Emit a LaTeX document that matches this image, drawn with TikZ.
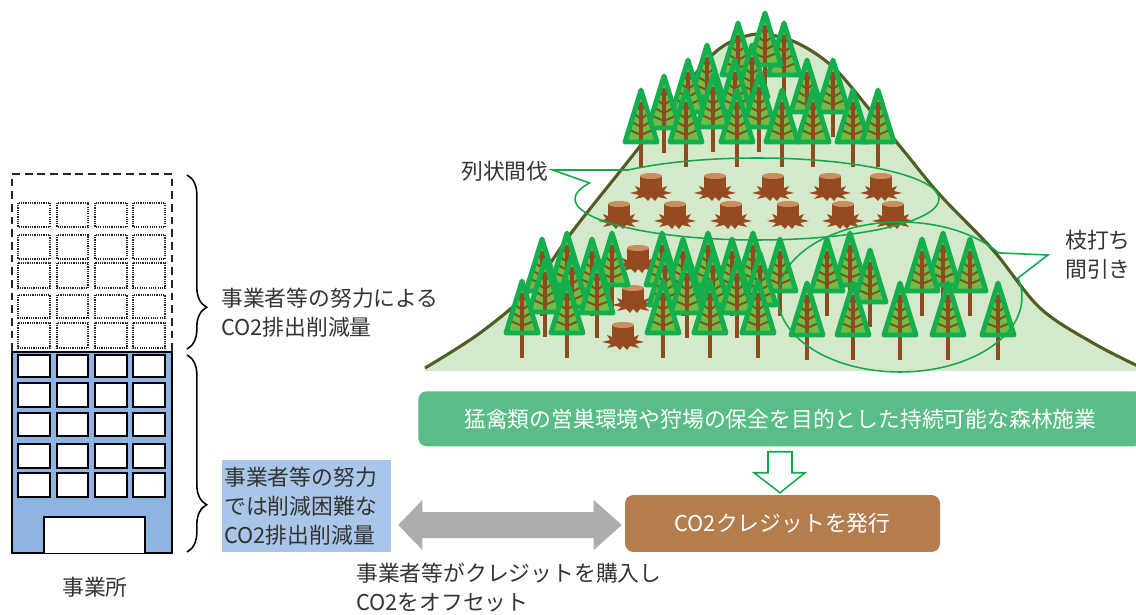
\documentclass[tikz,border=0pt]{standalone}
\usepackage{fontspec}
\setmainfont{Noto Sans CJK JP}
\usetikzlibrary{calc,decorations.pathreplacing}

\definecolor{txt}{HTML}{333333}
\definecolor{bldblue}{HTML}{8DB4E2}
\definecolor{hlblue}{HTML}{A9C6E9}
\definecolor{hill}{HTML}{D3E9CA}
\definecolor{hilledge}{HTML}{4F5E25}
\definecolor{needle}{HTML}{6CBE45}
\definecolor{needleedge}{HTML}{14AE4C}
\definecolor{bark}{HTML}{8E4A20}
\definecolor{stumpbody}{HTML}{954A20}
\definecolor{stumptop}{HTML}{C98F5F}
\definecolor{bandgreen}{HTML}{58BD86}
\definecolor{creditbrown}{HTML}{B47D4E}
\definecolor{arrowgray}{HTML}{ADADAD}
\definecolor{calloutgreen}{HTML}{14A84B}

\tikzset{
  % one conifer, placed by the tip of its crown
  conifer/.pic={
    \fill[needle] (0,3) -- (-16,55) -- (16,55) -- cycle;
    \draw[bark, line width=2.8pt] (0,15) -- (0,80);
    \foreach \yy/\ww in {24/5,32/8,40/11,48/14}
      \draw[bark, line width=1.4pt] (-\ww,\yy-6) -- (0,\yy) -- (\ww,\yy-6);
    \draw[needleedge, line width=3.5pt, line join=round] (0,3) -- (-16,55) -- (16,55) -- cycle;
  },
  % a cut stump, placed by the centre of its top face
  treestump/.pic={
    \fill[stumpbody] (-11,12) -- (-16,10) -- (-13,15) -- (-21,17) -- (-12,19) -- (-16,23)
      -- (-7,21) -- (-3,25) -- (0,21) -- (4,25) -- (7,21) -- (16,23) -- (12,19)
      -- (21,17) -- (13,15) -- (16,10) -- (11,12) -- cycle;
    \fill[stumpbody] (-11,0) rectangle (11,17);
    \fill[stumpbody] (0,17) ellipse [x radius=11, y radius=3];
    \fill[stumptop] (0,0) ellipse [x radius=11, y radius=3];
  }
}

\begin{document}
\begin{tikzpicture}[x=0.025cm, y=-0.025cm,
  lbl/.style={text=txt, font=\fontsize{15.5pt}{20.6pt}\selectfont, inner sep=0pt, align=left},
  win/.style={draw=black, line width=1.4pt, fill=white},
  ghostwin/.style={draw=black!85, line width=1pt, dash pattern=on 0.8pt off 0.8pt},
  ghostwall/.style={draw=black!85, line width=1.2pt, dash pattern=on 5.5pt off 3.5pt},
  bracket/.style={draw=black, line width=1.1pt, decorate,
    decoration={brace, amplitude=14pt, aspect=0.76}},
  callout/.style={draw=calloutgreen, line width=1.1pt},
]
\clip (0,0) rectangle (1136,615);

% ---------- office building ----------
\draw[ghostwall] (12,351) -- (12,174) -- (172,174) -- (172,351);
\foreach \ya/\yb in {203/227,235/259,263/288,295/318,323/348}
  \foreach \xa/\xb in {18/50,57/88,95/127,133/165}
    \draw[ghostwin] (\xa,\ya) rectangle (\xb,\yb);
\draw[fill=bldblue, draw=black, line width=1.4pt] (12,352) rectangle (172,553);
\foreach \ya/\yb in {355/377,383/407,413/436,444/468,473/497}
  \foreach \xa/\xb in {18/50,57/88,95/127,133/165}
    \draw[win] (\xa,\ya) rectangle (\xb,\yb);
\draw[win] (44,553) -- (44,517) -- (145,517) -- (145,553);
\node[lbl] (office) at (95,587) {事業所};

\draw[bracket] (187,175) -- (187,349);
\draw[bracket] (187,355) -- (187,552);

\node[lbl, anchor=west] (effort) at (221,313) {事業者等の努力による\\CO2排出削減量};
\node[lbl, fill=hlblue, anchor=north west, inner xsep=1.5pt, inner ysep=0pt,
      text width=117pt, minimum height=65.4pt] (hard) at (222,460)
      {事業者等の努力\\では削減困難な\\CO2排出削減量};

% ---------- mountain ----------
\fill[hill] plot[smooth, tension=0.55] coordinates {(425,368) (480,333) (530,290) (575,228)
  (637,150) (697,72) (725,45) (758,34) (795,42) (833,67) (870,110) (903,150) (940,195)
  (993,250) (1040,308) (1093,343) (1142,368)} -- (1142,371) -- (425,371) -- cycle;
\draw[hilledge, line width=2.2pt] plot[smooth, tension=0.55] coordinates {(425,368) (480,333)
  (530,290) (575,228) (637,150) (697,72) (725,45) (758,34) (795,42) (833,67) (870,110)
  (903,150) (940,195) (993,250) (1040,308) (1093,343) (1142,368)};

% upper stand
\foreach \x/\y in {738/20,784/20,765/10,707/42,752/42,688/57,735/57,807/57,833/57,
                   664/73,713/72,759/72,641/87,686/87,737/87,782/87,813/87,853/87,878/87}
  \pic at (\x,\y) {conifer};

% strip-thinned rows
\foreach \x in {651,715,773,830,881} \pic at (\x,176) {treestump};
\foreach \x in {619,675,731,788,843,893} \pic at (\x,204) {treestump};
\foreach \x/\y in {638/248,633/288,623/325} \pic at (\x,\y) {treestump};

% lower stand
\foreach \x/\y in {567/230,612/230,662/230,708/230,753/230,850/230,943/230,
                   542/236,592/236,683/236,732/236,780/236,827/236,922/236,970/236}
  \pic at (\x,\y) {conifer};
\foreach \x/\y in {870/247,572/252,665/250,713/250,760/250,545/257,597/258,687/258,737/258}
  \pic at (\x,\y) {conifer};
\foreach \x/\y in {522/278,567/278,663/278,710/278,758/278,807/280,853/280,900/280,948/280,998/280}
  \pic at (\x,\y) {conifer};

% ---------- callouts ----------
\node[lbl, anchor=west] (strip) at (461,171) {列状間伐};
\coordinate (c1) at (757,199);
\coordinate (tip1) at ($(strip.east)+(4,-1)$);
\draw[callout] (tip1) -- ($(c1)+(225:182 and 41)$)
  arc[start angle=225, end angle=563, x radius=182, y radius=41] -- cycle;

\node[lbl, anchor=west] (prune) at (1065,255) {枝打ち\\間引き};
\coordinate (c2) at (900,297);
\coordinate (tip2) at ($(prune.west)+(-17,0)$);
\draw[callout] (tip2) -- ($(c2)+(-36:122 and 75)$)
  arc[start angle=-36, end angle=-374.7, x radius=122, y radius=75] -- cycle;

% ---------- flow ----------
\node[lbl, fill=bandgreen, text=white, rounded corners=6pt, anchor=north west,
      minimum width=515pt, minimum height=39.1pt, align=center] (band) at (418,391)
      {猛禽類の営巣環境や狩場の保全を目的とした持続可能な森林施業};
\node[lbl, fill=creditbrown, text=white, rounded corners=6pt, align=center,
      minimum width=224pt, minimum height=40.5pt] (credit) at (782.5,523.5)
      {CO2クレジットを発行};

\coordinate (t) at ($(credit.north)+(-2.5,-2)$);
\draw[fill=white, draw=calloutgreen, line width=1.1pt]
  ($(t)+(-12,-41)$) -- ($(t)+(12,-41)$) -- ($(t)+(12,-20)$) -- ($(t)+(25,-20)$) -- (t)
  -- ($(t)+(-26,-20)$) -- ($(t)+(-12,-20)$) -- cycle;

\coordinate (l) at ($(hard.east |- credit.west)+(7,1.5)$);
\coordinate (r) at ($(credit.west)+(-3,1.5)$);
\fill[arrowgray] (l) -- ($(l)+(24,-25)$) -- ($(l)+(24,-13)$) -- ($(r)+(-28,-13)$)
  -- ($(r)+(-28,-25)$) -- (r) -- ($(r)+(-28,25)$) -- ($(r)+(-28,13)$)
  -- ($(l)+(24,13)$) -- ($(l)+(24,25)$) -- cycle;

\node[lbl, anchor=west] (offset) at (356,588) {事業者等がクレジットを購入し\\CO2をオフセット};
\end{tikzpicture}
\end{document}
